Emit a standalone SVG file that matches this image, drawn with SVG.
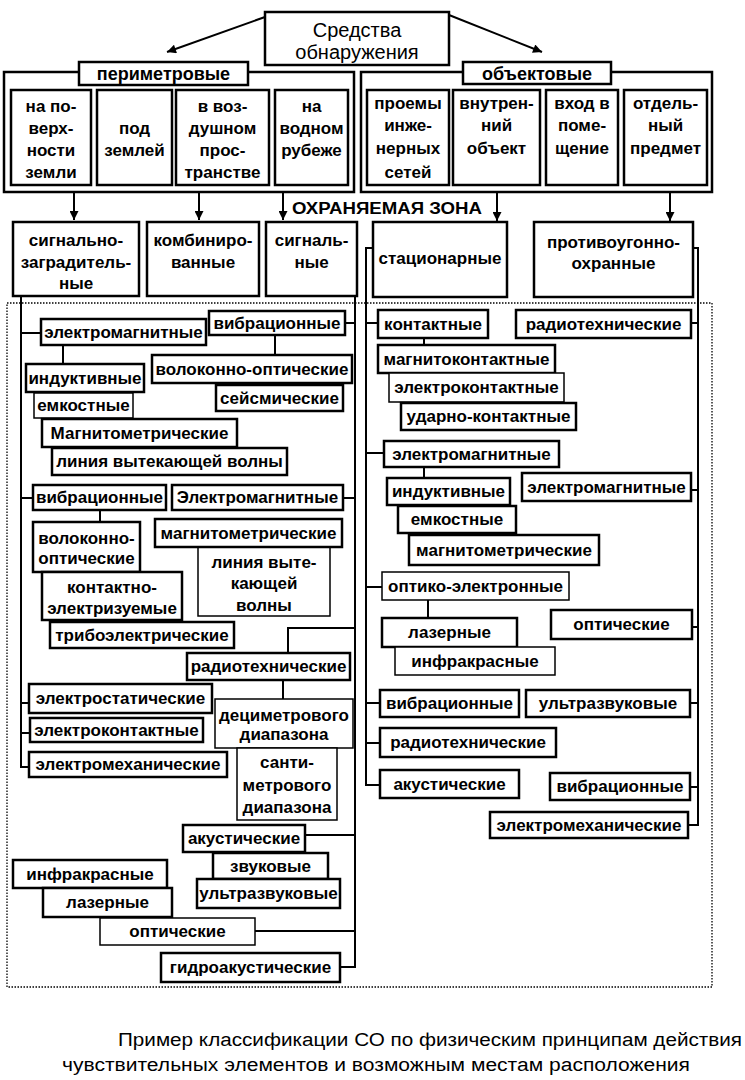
<svg xmlns="http://www.w3.org/2000/svg" width="745" height="1080" viewBox="0 0 745 1080">
<defs>
<marker id="ah" viewBox="0 0 10 10" refX="10" refY="5" markerWidth="10" markerHeight="9" markerUnits="userSpaceOnUse" orient="auto">
<path d="M0,0 L10,5 L0,10 z" fill="#000"/>
</marker>
<style>
rect{fill:#fff;stroke:#000;stroke-width:2.5}
rect.th{stroke-width:1.5}
rect.frame{fill:none;stroke-width:2.5}
.dot{fill:none;stroke:#000;stroke-width:1.3;stroke-dasharray:1.5 1.5}
.c{fill:none;stroke:#000;stroke-width:2}
.a{fill:none;stroke:#000;stroke-width:2;marker-end:url(#ah)}
text{font-family:"Liberation Sans",Arial,sans-serif;font-size:17px;font-weight:bold;text-anchor:middle;fill:#000}
text.n{font-weight:bold}
text.big{font-size:20px;font-weight:normal}
text.hd{font-size:18px}
text.cap{font-size:18px;font-weight:normal;text-anchor:start}
</style>
</defs>
<rect width="745" height="1080" style="fill:#fff;stroke:none"/>

<!-- protected zone frame -->
<rect class="dot" x="7" y="303" width="705" height="684" style="fill:none"/>

<g id="connectors">
<path class="a" d="M265,17 L167,52"/>
<path class="a" d="M449,15 L542,52"/>
<path class="a" d="M74,192 V220"/>
<path class="a" d="M199,192 V220"/>
<path class="a" d="M283,192 V220"/>
<path class="a" d="M497,192 V221"/>
<path class="a" d="M670,192 V221"/>
<!-- signal-barrier branch -->
<path class="c" d="M21,296 V767 H29"/>
<path class="c" d="M21,333 H41 M21,498 H33 M21,703 H29 M21,733 H30"/>
<path class="c" d="M63,345 V364 M100,510 V522"/>
<!-- signal branch -->
<path class="c" d="M355,296 V967 H340"/>
<path class="c" d="M345,323 H355 M343,498 H355 M305,835 H355 M255,931 H355"/>
<path class="c" d="M355,628 H288 V653 M283,680 V699 M275,335 V355"/>
<!-- stationary branch -->
<path class="c" d="M373,248 H366 V785 H380"/>
<path class="c" d="M366,323 H378 M366,453 H384 M366,587 H382 M366,703 H380 M366,743 H380"/>
<path class="c" d="M424,338 V345 M424,467 V478 M428,600 V618"/>
<!-- anti-theft branch -->
<path class="c" d="M693,248 H698 V825 H688"/>
<path class="c" d="M691,323 H698 M691,490 H698 M692,627 H698 M690,703 H698 M690,787 H698"/>
</g>

<g id="root"><rect x="265" y="12" width="184" height="53"/><text class="big" x="357" y="37">Средства</text><text class="big" x="357" y="59">обнаружения</text></g>

<g id="perimeter">
<rect class="frame" x="4" y="72" width="350" height="120"/>
<rect x="79" y="62" width="169" height="23"/><text class="hd" x="163.5" y="80">периметровые</text>
</g>
<g id="p1"><rect x="11" y="90" width="80" height="95"/><text x="51" y="112">на по-<tspan x="51" y="134">верх-</tspan><tspan x="51" y="156">ности</tspan><tspan x="51" y="178">земли</tspan></text></g>
<g id="p2"><rect x="97" y="90" width="75" height="95"/><text x="134.5" y="134">под<tspan x="134.5" y="156">землей</tspan></text></g>
<g id="p3"><rect x="176" y="90" width="93" height="95"/><text x="222.5" y="112">в воз-<tspan x="222.5" y="134">душном</tspan><tspan x="222.5" y="156">прос-</tspan><tspan x="222.5" y="178">транстве</tspan></text></g>
<g id="p4"><rect x="275" y="90" width="73" height="95"/><text x="311.5" y="112">на<tspan x="311.5" y="134">водном</tspan><tspan x="311.5" y="156">рубеже</tspan></text></g>

<g id="objective">
<rect class="frame" x="361" y="72" width="351" height="120"/>
<rect x="463" y="62" width="148" height="22"/><text class="hd" x="537" y="80">объектовые</text>
</g>
<g id="o1"><rect x="367" y="90" width="82" height="95"/><text x="408" y="109">проемы<tspan x="408" y="131">инже-</tspan><tspan x="408" y="154">нерных</tspan><tspan x="408" y="178">сетей</tspan></text></g>
<g id="o2"><rect x="453" y="90" width="87" height="95"/><text x="496.5" y="109">внутрен-<tspan x="496.5" y="131">ний</tspan><tspan x="496.5" y="154">объект</tspan></text></g>
<g id="o3"><rect x="546" y="90" width="72" height="95"/><text x="582" y="109">вход в<tspan x="582" y="131">поме-</tspan><tspan x="582" y="154">щение</tspan></text></g>
<g id="o4"><rect x="624" y="90" width="83" height="95"/><text x="665.5" y="109">отдель-<tspan x="665.5" y="131">ный</tspan><tspan x="665.5" y="154">предмет</tspan></text></g>

<text id="zone-label" x="292" y="214" style="text-anchor:start;font-size:16px" textLength="190" lengthAdjust="spacingAndGlyphs">ОХРАНЯЕМАЯ ЗОНА</text>

<g id="s1"><rect x="13" y="222" width="126" height="74"/><text x="76" y="246">сигнально-<tspan x="76" y="268">заградитель-</tspan><tspan x="76" y="289">ные</tspan></text></g>
<g id="s2"><rect x="147" y="222" width="112" height="74"/><text x="203" y="246">комбиниро-<tspan x="203" y="268">ванные</tspan></text></g>
<g id="s3"><rect x="266" y="222" width="91" height="74"/><text x="311.5" y="246">сигналь-<tspan x="311.5" y="268">ные</tspan></text></g>
<g id="s4"><rect x="373" y="222" width="134" height="75"/><text class="n" x="440" y="264">стационарные</text></g>
<g id="s5"><rect x="534" y="222" width="159" height="75"/><text class="n" x="613.5" y="248">противоугонно-<tspan x="613.5" y="269">охранные</tspan></text></g>

<!-- signal-barrier / signal subtree -->
<g id="n1"><rect x="41" y="319" width="165" height="26"/><text x="123.5" y="338">электромагнитные</text></g>
<g id="n2"><rect x="209" y="311" width="136" height="24"/><text x="277" y="329">вибрационные</text></g>
<g id="n3"><rect x="152" y="355" width="200" height="28"/><text x="252" y="375">волоконно-оптические</text></g>
<g id="n4"><rect x="216" y="385" width="127" height="26"/><text x="279.5" y="404">сейсмические</text></g>
<g id="n5"><rect x="26" y="364" width="118" height="28"/><text x="85" y="384">индуктивные</text></g>
<g id="n6"><rect class="th" x="34" y="393" width="99" height="25"/><text x="83.5" y="411">емкостные</text></g>
<g id="n7"><rect x="42" y="419" width="195" height="28"/><text x="139.5" y="439">Магнитометрические</text></g>
<g id="n8"><rect x="52" y="448" width="235" height="27"/><text class="n" x="169.5" y="467">линия вытекающей волны</text></g>
<g id="n9"><rect x="33" y="485" width="133" height="25"/><text x="99.5" y="503">вибрационные</text></g>
<g id="n10"><rect x="172" y="485" width="171" height="25"/><text class="n" x="257.5" y="503">Электромагнитные</text></g>
<g id="n13"><rect class="th" x="198" y="545" width="132" height="71"/><text x="264" y="568">линия выте-<tspan x="264" y="589">кающей</tspan><tspan x="264" y="611">волны</tspan></text></g>
<g id="n12"><rect x="155" y="519" width="187" height="28"/><text x="248.5" y="539">магнитометрические</text></g>
<g id="n11"><rect x="33" y="522" width="107" height="50"/><text x="86.5" y="544">волоконно-<tspan x="86.5" y="564">оптические</tspan></text></g>
<g id="n14"><rect x="42" y="572" width="140" height="48"/><text x="112" y="593">контактно-<tspan x="112" y="614">электризуемые</tspan></text></g>
<g id="n15"><rect x="50" y="622" width="184" height="26"/><text class="n" x="142" y="641">трибоэлектрические</text></g>
<g id="n16"><rect x="187" y="653" width="163" height="27"/><text class="n" x="268.5" y="672">радиотехнические</text></g>
<g id="n17"><rect x="29" y="684" width="183" height="29"/><text x="120.5" y="704">электростатические</text></g>
<g id="n18"><rect class="th" x="215" y="699" width="138" height="49"/><text x="284" y="721">дециметрового<tspan x="284" y="740">диапазона</tspan></text></g>
<g id="n19"><rect x="30" y="718" width="173" height="24"/><text x="116.5" y="736">электроконтактные</text></g>
<g id="n20"><rect x="29" y="752" width="198" height="25"/><text x="128" y="770">электромеханические</text></g>
<g id="n21"><rect class="th" x="237" y="748" width="100" height="72"/><text class="n" x="287" y="768">санти-<tspan x="287" y="791">метрового</tspan><tspan x="287" y="813">диапазона</tspan></text></g>
<g id="n22"><rect x="183" y="825" width="122" height="27"/><text x="244" y="844">акустические</text></g>
<g id="n23"><rect x="213" y="853" width="115" height="26"/><text x="270.5" y="872">звуковые</text></g>
<g id="n24"><rect x="197" y="879" width="143" height="29"/><text class="n" x="268.5" y="899">ультразвуковые</text></g>
<g id="n25"><rect x="13" y="860" width="154" height="28"/><text class="n" x="90" y="880">инфракрасные</text></g>
<g id="n26"><rect x="43" y="888" width="129" height="29"/><text x="107.5" y="908">лазерные</text></g>
<g id="n27"><rect class="th" x="100" y="918" width="155" height="27"/><text class="n" x="177.5" y="937">оптические</text></g>
<g id="n28"><rect x="161" y="953" width="179" height="29"/><text class="n" x="250.5" y="973">гидроакустические</text></g>

<!-- stationary subtree -->
<g id="m1"><rect x="378" y="310" width="110" height="28"/><text class="n" x="433" y="330">контактные</text></g>
<g id="m2"><rect x="378" y="345" width="177" height="28"/><text x="466.5" y="365">магнитоконтактные</text></g>
<g id="m3"><rect class="th" x="389" y="373" width="175" height="29"/><text class="n" x="476.5" y="393">электроконтактные</text></g>
<g id="m4"><rect x="401" y="403" width="175" height="27"/><text class="n" x="488.5" y="422">ударно-контактные</text></g>
<g id="m5"><rect x="384" y="441" width="175" height="26"/><text class="n" x="471.5" y="460">электромагнитные</text></g>
<g id="m6"><rect x="387" y="478" width="123" height="27"/><text x="448.5" y="497">индуктивные</text></g>
<g id="m7"><rect x="398" y="506" width="118" height="27"/><text x="457" y="525">емкостные</text></g>
<g id="m8"><rect x="409" y="535" width="190" height="30"/><text x="504" y="556">магнитометрические</text></g>
<g id="m9"><rect class="th" x="382" y="572" width="187" height="28"/><text class="n" x="475.5" y="592">оптико-электронные</text></g>
<g id="m10"><rect x="382" y="618" width="135" height="29"/><text class="n" x="449.5" y="638">лазерные</text></g>
<g id="m11"><rect class="th" x="395" y="647" width="160" height="28"/><text class="n" x="475" y="667">инфракрасные</text></g>
<g id="m12"><rect x="380" y="690" width="139" height="27"/><text x="449.5" y="709">вибрационные</text></g>
<g id="m13"><rect x="380" y="728" width="176" height="29"/><text class="n" x="468" y="748">радиотехнические</text></g>
<g id="m14"><rect x="380" y="770" width="139" height="28"/><text x="449.5" y="790">акустические</text></g>

<!-- anti-theft subtree -->
<g id="a1"><rect x="516" y="310" width="175" height="28"/><text class="n" x="603.5" y="330">радиотехнические</text></g>
<g id="a2"><rect x="522" y="473" width="169" height="28"/><text class="n" x="606.5" y="493">электромагнитные</text></g>
<g id="a3"><rect x="551" y="610" width="141" height="29"/><text x="621.5" y="630">оптические</text></g>
<g id="a4"><rect x="526" y="690" width="164" height="27"/><text class="n" x="608" y="709">ультразвуковые</text></g>
<g id="a5"><rect x="550" y="773" width="140" height="27"/><text x="620" y="792">вибрационные</text></g>
<g id="a6"><rect x="490" y="812" width="198" height="26"/><text class="n" x="589" y="831">электромеханические</text></g>

<g id="caption">
<text class="cap" x="118" y="1046" textLength="624" lengthAdjust="spacingAndGlyphs">Пример классификации СО по физическим принципам действия</text>
<text class="cap" x="62" y="1071" textLength="628" lengthAdjust="spacingAndGlyphs">чувствительных элементов и возможным местам расположения</text>
</g>
</svg>
